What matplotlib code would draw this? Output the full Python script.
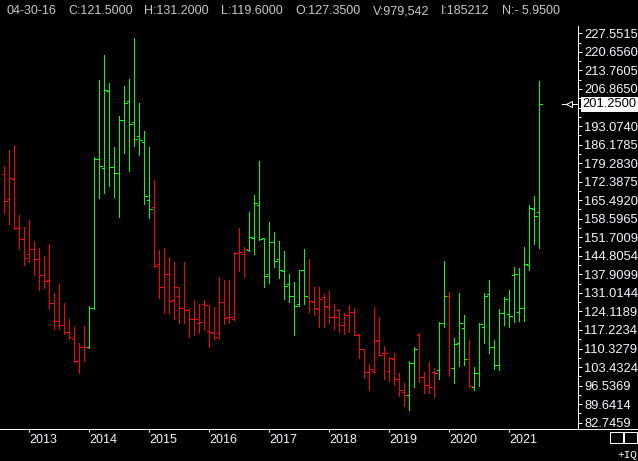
import numpy as np
import pandas as pd
import matplotlib
matplotlib.use("Agg")
import matplotlib.pyplot as plt
from matplotlib.collections import LineCollection
from matplotlib.lines import Line2D
from matplotlib.patches import Rectangle
from matplotlib.transforms import blended_transform_factory

plt.rcParams["font.family"] = ["Liberation Sans", "DejaVu Sans"]

# Monthly bars, Aug 2012 .. Jul 2021
months = pd.date_range("2012-08-01", periods=108, freq="MS")

opens = [175.4, 165.8, 173.3, 155.0, 151.1, 145.4, 147.4, 143.6, 137.7, 135.8,
         127.2, 120.5, 119.1, 116.5, 113.9, 105.7, 111.0, 111.0, 125.3, 180.7,
         177.4, 206.0, 177.7, 175.5, 195.3, 202.4, 194.5, 189.3, 187.0, 165.6,
         162.9, 141.7, 133.1, 137.9, 128.4, 130.0, 125.3, 124.7, 121.2, 119.7,
         126.9, 116.9, 116.0, 116.2, 127.8, 121.9, 121.2, 145.8, 145.4, 147.0,
         151.3, 163.7, 151.3, 137.9, 149.8, 143.6, 139.2, 134.3, 129.9, 126.9,
         139.5, 129.4, 127.8, 125.0, 129.6, 125.9, 122.2, 124.7, 119.1, 122.8,
         124.0, 115.5, 110.1, 101.5, 102.1, 113.5, 108.6, 102.1, 106.3, 98.9,
         94.1, 93.1, 105.1, 115.4, 99.9, 96.8, 101.7, 102.4, 119.7, 129.9,
         103.0, 112.3, 117.9, 106.3, 95.9, 101.3, 118.2, 130.6, 111.0, 104.2,
         123.5, 123.1, 137.7, 123.8, 125.3, 141.4, 162.1, 161.2]
highs = [178.3, 184.2, 186.0, 160.0, 155.4, 158.1, 150.3, 147.8, 144.7, 149.2,
         131.1, 134.3, 127.2, 121.3, 118.2, 112.3, 118.7, 126.2, 181.7, 210.2,
         219.5, 209.0, 185.4, 196.8, 208.0, 210.5, 225.8, 201.5, 191.2, 185.4,
         173.0, 147.0, 147.6, 144.3, 142.6, 133.1, 142.6, 125.0, 128.4, 126.9,
         128.4, 126.5, 125.9, 137.0, 135.8, 135.8, 146.3, 155.3, 148.0, 161.1,
         167.4, 180.1, 151.3, 157.4, 153.7, 150.4, 146.7, 138.1, 135.2, 139.5,
         147.4, 143.6, 133.3, 133.3, 130.6, 131.7, 126.9, 125.0, 123.4, 126.5,
         125.3, 115.6, 110.2, 104.5, 125.9, 121.9, 111.3, 107.3, 108.8, 101.1,
         97.4, 105.7, 110.8, 116.0, 101.7, 105.4, 103.0, 120.3, 142.9, 131.5,
         114.1, 130.9, 122.8, 113.5, 103.6, 119.7, 130.9, 135.8, 113.5, 124.9,
         129.4, 132.1, 140.8, 140.2, 148.2, 163.7, 167.1, 209.8]
lows = [160.6, 156.6, 154.8, 147.2, 141.4, 142.6, 137.7, 132.1, 132.7, 125.0,
        117.5, 117.5, 115.7, 113.7, 105.5, 101.1, 105.8, 110.4, 125.0, 166.2,
        168.1, 170.9, 166.8, 159.4, 183.2, 176.5, 185.7, 182.3, 164.1, 159.0,
        140.5, 129.0, 123.7, 123.7, 121.2, 119.9, 119.9, 114.7, 115.4, 116.0,
        117.6, 111.0, 113.9, 113.9, 119.5, 119.9, 120.9, 139.3, 137.0, 146.7,
        145.4, 150.7, 133.1, 134.6, 140.5, 136.5, 128.8, 127.5, 115.4, 126.2,
        126.9, 123.9, 122.8, 118.5, 118.5, 119.7, 117.6, 116.5, 115.7, 116.6,
        115.4, 106.9, 99.5, 94.9, 101.1, 107.6, 98.9, 98.4, 96.8, 92.7,
        89.1, 87.5, 96.1, 98.0, 93.7, 93.7, 92.2, 98.9, 118.2, 100.1,
        97.6, 103.8, 104.2, 95.9, 94.9, 96.4, 112.3, 108.6, 102.6, 102.4,
        119.1, 118.5, 120.3, 120.7, 120.7, 139.5, 149.2, 147.8]
closes = [165.2, 173.6, 155.0, 151.1, 144.1, 147.4, 143.6, 137.7, 135.5, 127.2,
          120.5, 119.1, 116.5, 114.6, 105.7, 111.0, 110.8, 125.3, 180.7, 178.2,
          206.4, 177.7, 175.5, 195.3, 201.6, 193.7, 188.3, 187.8, 167.1, 162.1,
          141.0, 133.3, 137.9, 128.1, 133.1, 125.3, 124.7, 121.2, 121.2, 120.2,
          126.5, 116.6, 114.5, 127.8, 121.6, 121.9, 146.0, 146.3, 147.2, 151.7,
          164.3, 151.0, 137.3, 149.8, 142.9, 139.5, 133.6, 129.9, 126.2, 139.5,
          129.9, 128.1, 125.3, 128.8, 126.3, 122.2, 122.2, 119.1, 122.8, 124.0,
          115.5, 110.1, 101.5, 102.6, 113.1, 107.9, 108.8, 106.7, 98.9, 94.9,
          93.1, 105.1, 110.1, 99.9, 96.8, 96.1, 101.1, 119.7, 129.9, 103.0,
          111.9, 119.9, 106.3, 96.4, 101.3, 119.5, 129.9, 111.0, 104.2, 123.4,
          128.6, 122.5, 138.1, 125.3, 141.8, 162.5, 159.7, 201.25]
# trend colouring of each bar (u = green, d = red)
trend = ("ddddddddddddddddd" "uuuuuuuuuuuuu" "ddddddddddddddddddd" "uuuuuuuuuuuu"
         "dddddddddddddddddddd" "uu" "dddd" "uu" "d" "uuu" "d" "uuuuuuuuuuuuuu")

ytick_values = [82.7459, 89.6414, 96.5369, 103.4324, 110.3279, 117.2234, 124.1189,
                131.0144, 137.9099, 144.8054, 151.7009, 158.5965, 165.4920, 172.3875,
                179.2830, 186.1785, 193.0740, 199.9695, 206.8650, 213.7605, 220.6560,
                227.5515]
ytick_labels = ["82.7459", "89.6414", "96.5369", "103.4324", "110.3279", "117.2234",
                "124.1189", "131.0144", "137.9099", "144.8054", "151.7009", "158.5965",
                "165.4920", "172.3875", "179.2830", "186.1785", "193.0740", "",
                "206.8650", "213.7605", "220.6560", "227.5515"]

header = ["04-30-16", "C:121.5000", "H:131.2000", "L:119.6000",
          "O:127.3500", "V:979,542", "I:185212", "N:- 5.9500"]
header_x = [6.7, 68.3, 144.3, 221, 295.7, 372.7, 441, 501.7]

W, H = 638, 461
fig = plt.figure(figsize=(W / 100, H / 100), dpi=100)
fig.patch.set_facecolor("black")
ax = fig.add_axes([0, 1 - 429 / H, 578 / W, (429 - 26) / H])
ax.set_facecolor("black")

x = np.arange(len(opens))
segs, cols = [], []
for i in x:
    c = "#00ff00" if trend[i] == "u" else "#ff0000"
    segs.append([(i, lows[i]), (i, highs[i])])
    segs.append([(i - 0.45, opens[i]), (i, opens[i])])
    segs.append([(i, closes[i]), (i + 0.45, closes[i])])
    cols += [c, c, c]
lc = LineCollection(segs, colors=cols, linewidths=0.72, antialiaseds=False)
ax.add_collection(lc)

ax.set_xlim(-0.86, 114.74)
ax.set_ylim(80.40, 230.29)

# axes styling
for s in ["top", "left"]:
    ax.spines[s].set_visible(False)
for s in ["right", "bottom"]:
    ax.spines[s].set_color("white")
    ax.spines[s].set_linewidth(0.72)
fig.add_artist(Line2D([578 / W, 1], [1 - 429 / H] * 2, transform=fig.transFigure,
                      color="white", lw=0.72))

ax.yaxis.tick_right()
ax.set_yticks(ytick_values)
ax.set_yticklabels(ytick_labels)
ax.set_yticks([(a + b) / 2 for a, b in zip(ytick_values[:-1], ytick_values[1:])], minor=True)
ax.tick_params(axis="y", which="major", colors="white", length=3, width=0.72,
               pad=1.5, labelsize=9.3, labelcolor="#f2f6ff")
ax.tick_params(axis="y", which="minor", colors="white", length=2.5, width=0.72)

jan = [i for i, d in enumerate(months) if d.month == 1]
ax.set_xticks(jan)
ax.set_xticklabels([str(months[i].year) for i in jan])
ax.tick_params(axis="x", colors="white", length=2.5, width=0.72, pad=1,
               labelsize=9, labelcolor="#f2f6ff")
for lab in ax.get_xticklabels():
    lab.set_ha("left")

# header line
for txt, hx in zip(header, header_x):
    fig.text(hx / W, 1 - 11.5 / H, txt, color="#c8c8c8", fontsize=9, va="center", ha="left")

# last price marker
blend = blended_transform_factory(ax.transAxes, ax.transData)
ax.text(1.0075, closes[-1], "201.2500", transform=blend, ha="left", va="center",
        color="black", fontsize=9.3, clip_on=False,
        bbox=dict(boxstyle="square,pad=0.12", fc="white", ec="none"))
ax.plot([562 / 578, 577 / 578], [closes[-1]] * 2, transform=blend, color="white",
        lw=0.72, clip_on=False)
ax.plot([568.5 / 578], [closes[-1]], transform=blend, marker="<", ms=4.5, mfc="black",
        mec="white", mew=0.72, clip_on=False)

# bottom-right widgets
for rx in [610, 624]:
    fig.add_artist(Rectangle((rx / W, 1 - 442.5 / H), 12.5 / W, 10.5 / H,
                             transform=fig.transFigure, fill=False, ec="white", lw=0.72))
fig.text(617 / W, 1 - 454.5 / H, "+IQ", color="white", fontsize=8, va="center", ha="left",
         family="Liberation Mono")

fig.savefig("out.png", dpi=100, facecolor="black")
